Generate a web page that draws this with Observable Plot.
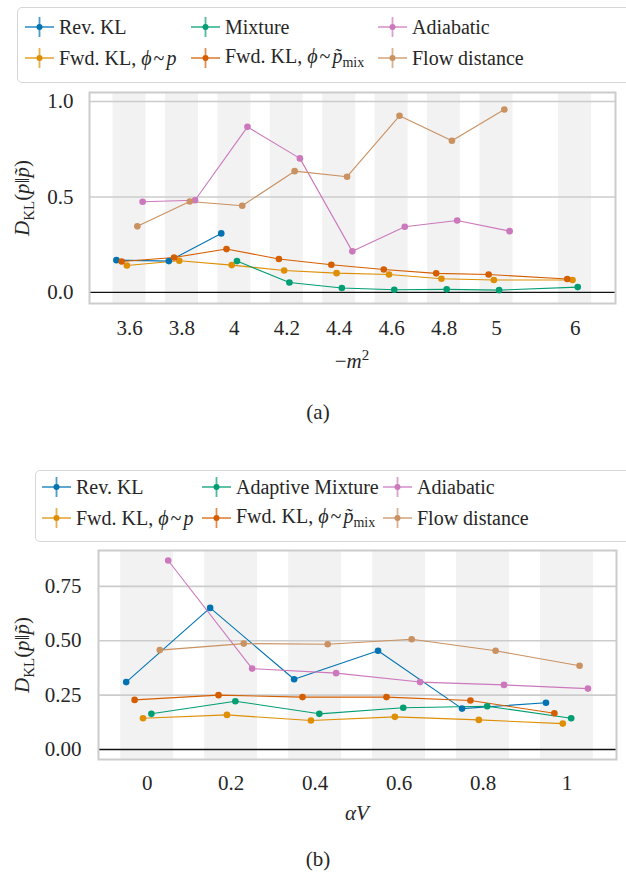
<!DOCTYPE html>
<html><head><meta charset="utf-8">
<script src="https://cdn.jsdelivr.net/npm/d3@7"></script>
<script src="https://cdn.jsdelivr.net/npm/@observablehq/plot@0.6"></script>
<style>
body{margin:0;width:626px;height:873px;overflow:hidden;background:#fff;font-family:"Liberation Serif","Times New Roman",serif;color:#262626;position:relative}
.legend{position:absolute;border:1.5px solid #d6d6d6;border-radius:5px;background:#fff;width:660px;box-sizing:border-box}
.entry{position:absolute;display:flex;align-items:center;font-size:20px;white-space:nowrap;height:24px;font-family:"Liberation Serif","Times New Roman",serif}
.entry svg{margin-right:5px;flex:none}
.m{font-style:italic}
.t{margin:0 2px}
.sub{font-size:70%;vertical-align:-0.3em}
.cap{position:absolute;left:0;font-size:21px;width:636px;text-align:center}
.fig{position:absolute;left:0}
</style></head><body>
<div class="legend" style="left:17px;top:7px;height:76px"></div>
<div class="legend" style="left:35px;top:470px;height:72px"></div>
<div id="legA"></div><div id="legB"></div>
<div id="pa" class="fig" style="top:80px"></div>
<div id="pb" class="fig" style="top:540px"></div>
<div class="cap" style="top:400px">(a)</div>
<div class="cap" style="top:847px">(b)</div>
<script>
// ---------- data ----------
const seriesKeys = ["rev", "fwdP", "mix", "fwdMix", "adiab", "flow"];
const seriesColors = ["#0173b2", "#de8f05", "#029e73", "#d55e00", "#cc78bc", "#ca9161"];
const dodgeOrder = ["rev", "fwdMix", "fwdP", "mix", "flow", "adiab"];

// panel (a): x = -m^2
const catsA = ["3.6", "3.8", "4", "4.2", "4.4", "4.6", "4.8", "5", "6"];
const revA    = [0.169, 0.164, 0.309, null, null, null, null, null, null];
const fwdMixA = [0.162, 0.183, 0.227, 0.175, 0.145, 0.120, 0.100, 0.094, 0.070];
const fwdPA   = [0.141, 0.166, 0.143, 0.115, 0.101, 0.094, 0.072, 0.065, 0.065];
const mixA    = [null, null, 0.164, 0.052, 0.023, 0.014, 0.016, 0.012, 0.028];
const flowA   = [0.346, 0.476, 0.454, 0.635, 0.606, 0.925, 0.794, 0.958, null];
const adiabA  = [0.475, 0.483, 0.867, 0.702, 0.215, 0.344, 0.377, 0.321, null];
const yTicksA = [0, 0.5, 1.0];

// panel (b): x = alpha V
const catsB = ["0", "0.2", "0.4", "0.6", "0.8", "1"];
const revB    = [0.310, 0.651, 0.323, 0.454, 0.188, 0.215];
const fwdMixB = [0.228, 0.250, 0.241, 0.241, 0.225, 0.167];
const fwdPB   = [0.144, 0.159, 0.133, 0.150, 0.136, 0.119];
const adMixB  = [0.164, 0.222, 0.164, 0.192, 0.199, 0.144];
const flowB   = [0.457, 0.487, 0.484, 0.507, 0.454, 0.385];
const adiabB  = [0.869, 0.372, 0.351, 0.310, 0.297, 0.280];
const yTicksB = [0, 0.25, 0.5, 0.75];

// ---------- legends ----------
const labelsA = {rev:"Rev. KL", fwdP:'Fwd. KL, <span class="m">ϕ</span><span class="t">~</span><span class="m">p</span>', mix:"Mixture",
  fwdMix:'Fwd. KL, <span class="m">ϕ</span><span class="t">~</span><span class="m">p̃</span><span class="sub">mix</span>', adiab:"Adiabatic", flow:"Flow distance"};
const labelsB = Object.assign({}, labelsA, {mix:"Adaptive Mixture"});
const legendOrder = [["rev","mix","adiab"],["fwdP","fwdMix","flow"]];

function handle(c){
  return `<svg width="29" height="22"><line x1="0" x2="29" y1="11" y2="11" stroke="${c}" stroke-opacity="0.7" stroke-width="1.8"/>
  <line x1="14.5" x2="14.5" y1="1" y2="21" stroke="${c}" stroke-opacity="0.7" stroke-width="1.8"/><circle cx="14.5" cy="11" r="3" fill="${c}"/></svg>`;
}
function legend(el, labels, cols, rows){
  let html = "";
  legendOrder.forEach((row, r) => row.forEach((k, c) => {
    const col = seriesColors[seriesKeys.indexOf(k)];
    html += `<div class="entry" style="left:${cols[c]}px;top:${rows[r]-12}px">${handle(col)}<span>${labels[k]}</span></div>`;
  }));
  document.getElementById(el).innerHTML = html;
}
legend("legA", labelsA, [25, 191, 378], [27, 58]);
legend("legB", labelsB, [42, 202, 383], [487, 518]);

// ---------- charts ----------
function build(cats, catPos, seriesMap){
  const rows = [];
  for (const k of seriesKeys) {
    const vals = seriesMap[k];
    const off = (dodgeOrder.indexOf(k) - 2.5) * 0.1;
    vals.forEach((v, i) => { if (v != null) rows.push({key: k, pos: catPos[i] + off, value: v}); });
  }
  return rows;
}

function panel(o){
  const rows = build(o.cats, o.catPos, o.series);
  const svg = Plot.plot({
    width: 626, height: o.height,
    marginLeft: o.ml, marginRight: o.mr, marginTop: o.mt, marginBottom: o.mb,
    style: {fontFamily: '"Liberation Serif", "Times New Roman", serif', fontSize: "21px", color: "#262626", background: "transparent", overflow: "visible"},
    x: {domain: o.xDomain},
    y: {domain: o.yDomain},
    color: {domain: seriesKeys, range: seriesColors},
    marks: [
      Plot.rect(o.catPos, {x1: d => d - 0.315, x2: d => d + 0.315, y1: () => o.yDomain[0], y2: () => o.yDomain[1], fill: "#f2f2f2"}),
      Plot.ruleY(o.yTicks.filter(t => t > 0), {stroke: "#cccccc", strokeWidth: 1.6}),
      Plot.ruleY([0], {stroke: "#111", strokeWidth: 1.4}),
      Plot.frame({stroke: "#cccccc", strokeWidth: 2}),
      Plot.axisX({ticks: o.catPos, tickFormat: d => o.cats[o.catPos.indexOf(d)], tickSize: 0, tickPadding: o.xpad, label: null, fill: "#262626"}),
      Plot.axisY({ticks: o.yTicks, tickFormat: o.yFmt, tickSize: 0, tickPadding: o.ypad, label: null, fill: "#262626"}),
      Plot.line(rows, {x: "pos", y: "value", z: "key", stroke: "key", strokeWidth: 1.1}),
      Plot.dot(rows, {x: "pos", y: "value", fill: "key", r: 3.3})
    ]
  });
  const s = d3.select(svg);
  // y label
  const yl = s.append("text").attr("transform", `translate(${o.ylx},${o.yly}) rotate(-90)`)
    .attr("text-anchor", "middle").attr("dy", "0.32em").attr("fill", "#262626").attr("font-size", 21);
  yl.append("tspan").attr("font-style", "italic").text("D");
  yl.append("tspan").attr("font-size", 15).attr("dy", 5).text("KL");
  yl.append("tspan").attr("dy", -5).text("(");
  yl.append("tspan").attr("font-style", "italic").text("p");
  yl.append("tspan").text("‖");
  yl.append("tspan").attr("font-style", "italic").text("p̃");
  yl.append("tspan").text(")");
  // x label
  const xl = s.append("text").attr("x", (o.ml + 626 - o.mr) / 2).attr("y", o.xly)
    .attr("text-anchor", "middle").attr("dy", "0.35em").attr("fill", "#262626").attr("font-size", 21);
  o.xlabel(xl);
  document.getElementById(o.el).append(svg);
}

const catPosA = catsA.map((c, i) => i + (c === "6" ? 0.5 : 0));
const catPosB = catsB.map((c, i) => i);

panel({el: "pa", cats: catsA, catPos: catPosA,
  series: {rev: revA, fwdP: fwdPA, mix: mixA, fwdMix: fwdMixA, adiab: adiabA, flow: flowA},
  height: 300, ml: 89, mr: 11, mt: 12, mb: 77,
  xDomain: [-0.763, 9.27], yDomain: [-0.058, 1.047], yTicks: yTicksA, yFmt: d3.format(".1f"),
  xpad: 17, ypad: 16, ylx: 22, yly: 118, xly: 281,
  xlabel: t => { t.append("tspan").text("−"); t.append("tspan").attr("font-style", "italic").text("m");
                 t.append("tspan").attr("font-size", 15).attr("dy", -8).text("2"); }
});
panel({el: "pb", cats: catsB, catPos: catPosB,
  series: {rev: revB, fwdP: fwdPB, mix: adMixB, fwdMix: fwdMixB, adiab: adiabB, flow: flowB},
  height: 300, ml: 98, mr: 10, mt: 10, mb: 81,
  xDomain: [-0.58, 5.59], yDomain: [-0.046, 0.915], yTicks: yTicksB, yFmt: d3.format(".2f"),
  xpad: 16, ypad: 17, ylx: 22, yly: 115, xly: 273,
  xlabel: t => { t.append("tspan").attr("font-style", "italic").text("αV"); }
});
</script>
</body></html>
